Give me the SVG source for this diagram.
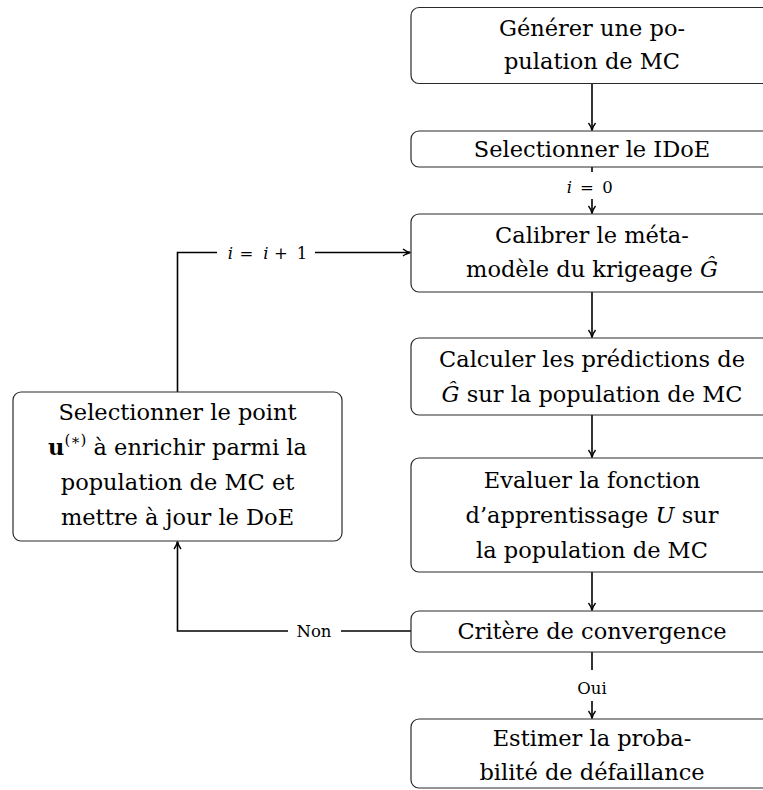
<svg xmlns="http://www.w3.org/2000/svg" width="763" height="790" viewBox="0 0 763 790">
<style>
.box{fill:#fff;stroke:#2a2a2a;stroke-width:1.2}
.c{fill:none;stroke:#000;stroke-width:1.6}
</style>
<defs>
<marker id="ah" markerWidth="10" markerHeight="10" refX="8" refY="5" orient="auto" markerUnits="userSpaceOnUse">
<path d="M1,1.5 Q4,4 8.5,5 Q4,6 1,8.5" fill="none" stroke="#000" stroke-width="1.4"/>
</marker>
</defs>
<g id="connectors">
<line class="c" x1="592" y1="83" x2="592" y2="130" marker-end="url(#ah)"/>
<line class="c" x1="592" y1="167" x2="592" y2="172"/>
<text y="193" font-family="DejaVu Serif" font-size="16.5" text-anchor="middle"><tspan x="569.5" font-style="italic">i</tspan><tspan x="587">=</tspan><tspan x="607.5">0</tspan></text>
<line class="c" x1="592" y1="199" x2="592" y2="213" marker-end="url(#ah)"/>
<line class="c" x1="592" y1="292" x2="592" y2="337" marker-end="url(#ah)"/>
<line class="c" x1="592" y1="415" x2="592" y2="457" marker-end="url(#ah)"/>
<line class="c" x1="592" y1="572" x2="592" y2="610" marker-end="url(#ah)"/>
<line class="c" x1="592" y1="652" x2="592" y2="670"/>
<text x="592" y="694" font-family="DejaVu Serif" font-size="16.5" text-anchor="middle">Oui</text>
<line class="c" x1="592" y1="701" x2="592" y2="718" marker-end="url(#ah)"/>
<line class="c" x1="411" y1="631" x2="341" y2="631"/>
<polyline class="c" points="288,631 177.5,631 177.5,542" marker-end="url(#ah)"/>
<text x="314" y="637" font-family="DejaVu Serif" font-size="16.5" text-anchor="middle">Non</text>
<polyline class="c" points="177.5,392 177.5,252.5 217,252.5"/>
<line class="c" x1="315" y1="252.5" x2="410" y2="252.5" marker-end="url(#ah)"/>
<text y="258.5" font-family="DejaVu Serif" font-size="16.5" text-anchor="middle"><tspan x="230.5" font-style="italic">i</tspan><tspan x="246.5">=</tspan><tspan x="266" font-style="italic">i</tspan><tspan x="281">+</tspan><tspan x="302">1</tspan></text>
</g>
<g id="n1">
<rect class="box" x="411" y="7.5" width="362" height="76" rx="8"/>
<text x="592" y="36" font-family="DejaVu Serif" font-size="22.5" text-anchor="middle">Générer une po-</text>
<text x="592" y="69" font-family="DejaVu Serif" font-size="22.5" text-anchor="middle">pulation de MC</text>
</g>
<g id="n2">
<rect class="box" x="411" y="131" width="362" height="36" rx="8"/>
<text x="592" y="157" font-family="DejaVu Serif" font-size="22.5" text-anchor="middle">Selectionner le IDoE</text>
</g>
<g id="n3">
<rect class="box" x="411" y="214" width="362" height="78" rx="8"/>
<text x="592" y="243" font-family="DejaVu Serif" font-size="22.5" text-anchor="middle">Calibrer le méta-</text>
<text x="592" y="277" font-family="DejaVu Serif" font-size="22.5" text-anchor="middle">modèle du krigeage <tspan font-style="italic">Ĝ</tspan></text>
</g>
<g id="n4">
<rect class="box" x="411" y="338" width="362" height="77" rx="8"/>
<text x="592" y="367" font-family="DejaVu Serif" font-size="22.5" text-anchor="middle">Calculer les prédictions de</text>
<text x="592" y="402" font-family="DejaVu Serif" font-size="22.5" text-anchor="middle"><tspan font-style="italic">Ĝ</tspan> sur la population de MC</text>
</g>
<g id="n5">
<rect class="box" x="411" y="458" width="362" height="114" rx="8"/>
<text x="592" y="488" font-family="DejaVu Serif" font-size="22.5" text-anchor="middle">Evaluer la fonction</text>
<text x="592" y="523" font-family="DejaVu Serif" font-size="22.5" text-anchor="middle">d’apprentissage <tspan font-style="italic">U</tspan> sur</text>
<text x="592" y="558" font-family="DejaVu Serif" font-size="22.5" text-anchor="middle">la population de MC</text>
</g>
<g id="n6">
<rect class="box" x="411" y="611" width="362" height="41" rx="8"/>
<text x="592" y="639" font-family="DejaVu Serif" font-size="22.5" text-anchor="middle">Critère de convergence</text>
</g>
<g id="n7">
<rect class="box" x="411" y="719" width="362" height="69" rx="8"/>
<text x="592" y="746" font-family="DejaVu Serif" font-size="22.5" text-anchor="middle">Estimer la proba-</text>
<text x="592" y="780" font-family="DejaVu Serif" font-size="22.5" text-anchor="middle">bilité de défaillance</text>
</g>
<g id="n8">
<rect class="box" x="13" y="392" width="329" height="149" rx="8"/>
<text x="177.5" y="420" font-family="DejaVu Serif" font-size="22.5" text-anchor="middle">Selectionner le point</text>
<text x="177.5" y="455" font-family="DejaVu Serif" font-size="22.5" text-anchor="middle"><tspan font-weight="bold">u</tspan><tspan font-size="15" dy="-10">(∗)</tspan><tspan dy="10"> à enrichir parmi la</tspan></text>
<text x="177.5" y="490" font-family="DejaVu Serif" font-size="22.5" text-anchor="middle">population de MC et</text>
<text x="177.5" y="525" font-family="DejaVu Serif" font-size="22.5" text-anchor="middle">mettre à jour le DoE</text>
</g>
</svg>
